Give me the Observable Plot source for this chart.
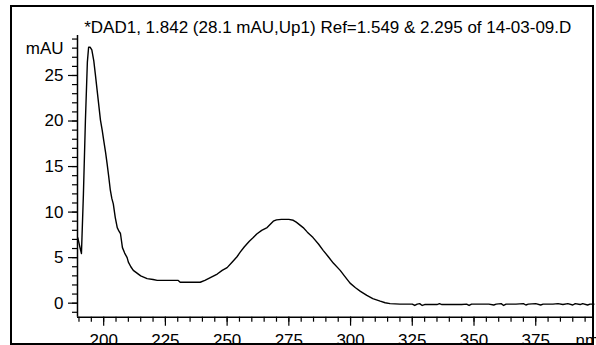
<!DOCTYPE html>
<html>
<head>
<meta charset="utf-8">
<script src="https://cdn.jsdelivr.net/npm/d3@7"></script>
<script src="https://cdn.jsdelivr.net/npm/@observablehq/plot@0.6"></script>
<style>
  html, body { margin: 0; padding: 0; background: #fff; }
  #wrap { position: relative; width: 596px; height: 345px; overflow: hidden; }
  #box { position: absolute; left: 10px; top: 5px; width: 580px; height: 336px; border: 2px solid #000; pointer-events: none; }
  svg { display: block; }
</style>
</head>
<body>
<div id="wrap"><div id="box"></div></div>
<script>
const title = "*DAD1, 1.842 (28.1 mAU,Up1) Ref=1.549 & 2.295 of 14-03-09.D";
const yUnit = "mAU";
const xUnit = "nm";

const wavelength = [189.5,190.5,191,191.8,192.6,193.4,193.9,194.5,195.2,196,196.6,197.5,198.7,199.4,200,200.8,201.4,202,202.7,203.3,203.9,204.7,205.5,206.2,206.8,207.6,208.5,209.5,210,211,212,213.5,215,217.6,220,221.7,225,228,230.2,231,235,239.1,241,243.2,246,248,250,252,254,255.3,257,259,260.6,262,264,266.2,268.7,270,272,275,276.8,278,280.8,282.5,284.8,287,288.9,291,293,295.8,297.5,299.8,302,304,306.6,309,312,314,316,320,325,326,327,328,329,330,335,336,337,345,347,348,349,352,356,358,359,361,362,363,367,370,371,372,375,377,378,382,384,386,388,390,391,393,394,396,397,398.6];
const absorbance = [7.2,6.0,5.45,12,20,26.5,28.1,28.1,27.8,26.6,25.2,23,20.1,19,17.9,16.5,15.3,14,12.4,11.5,10.9,9.4,8.3,7.9,7.65,6.1,5.5,5.0,4.5,4.0,3.6,3.3,3.0,2.7,2.6,2.5,2.5,2.5,2.5,2.3,2.3,2.3,2.5,2.8,3.2,3.6,3.9,4.5,5.1,5.6,6.2,6.8,7.2,7.6,8.0,8.3,9.0,9.15,9.2,9.2,9.1,8.9,8.3,7.8,7.2,6.5,5.8,5.1,4.4,3.6,3.0,2.2,1.7,1.3,0.85,0.5,0.22,0.05,-0.05,-0.1,-0.1,-0.25,-0.1,-0.05,-0.25,-0.15,-0.15,-0.05,-0.15,-0.15,-0.1,-0.25,-0.1,-0.1,-0.1,-0.2,-0.1,-0.05,-0.25,-0.1,-0.1,-0.05,-0.2,-0.1,-0.05,-0.2,-0.1,-0.1,-0.05,-0.15,-0.05,-0.2,-0.05,-0.15,-0.05,-0.2,-0.1,-0.1];

const xMajorTicks = [200,225,250,275,300,325,350,375];
const xMinorTicks = d3.range(190, 400, 5);
const yMajorTicks = [0,5,10,15,20,25];
const yMinorTicks = d3.range(-1, 30, 1);

const xDomain = [189.4, 398.6];
const yDomain = [-1.54, 29.39];

const data = wavelength.map((w, i) => ({w, a: absorbance[i]}));
const font = "'Liberation Sans', Arial, sans-serif";

const chart = Plot.plot({
  width: 596,
  height: 345,
  marginLeft: 77,
  marginRight: 2.5,
  marginTop: 35,
  marginBottom: 28.3,
  style: {fontFamily: font, fontSize: "17px", color: "#000", background: "transparent"},
  x: {domain: xDomain},
  y: {domain: yDomain},
  marks: [
    Plot.ruleX([xDomain[0]], {stroke: "#000", strokeWidth: 1.5}),
    Plot.ruleY([yDomain[0]], {stroke: "#000", strokeWidth: 1.5}),
    Plot.axisY({ticks: yMinorTicks, tickSize: 5, tickFormat: () => "", label: null, strokeWidth: 1.2}),
    Plot.axisY({ticks: yMajorTicks, tickSize: 9, tickPadding: 5, fontSize: 17, label: null, strokeWidth: 1.2, tickFormat: d => String(d)}),
    Plot.axisX({ticks: xMinorTicks, tickSize: 5, tickFormat: () => "", label: null, strokeWidth: 1.2}),
    Plot.axisX({ticks: xMajorTicks, tickSize: 9, tickPadding: 8, fontSize: 17, label: null, strokeWidth: 1.2, tickFormat: d => String(d)}),
    Plot.text([yUnit], {frameAnchor: "left", y: [28], dx: -14, textAnchor: "end", fontSize: 17}),
    Plot.text([xUnit], {frameAnchor: "bottom-right", lineAnchor: "top", textAnchor: "start", dx: -18.5, dy: 17, fontSize: 17}),
    Plot.text([title], {frameAnchor: "top", dy: -15, dx: -8, fontSize: 17}),
    Plot.line(data, {x: "w", y: "a", stroke: "#000", strokeWidth: 1.4})
  ]
});
document.getElementById("wrap").prepend(chart);
</script>
</body>
</html>
